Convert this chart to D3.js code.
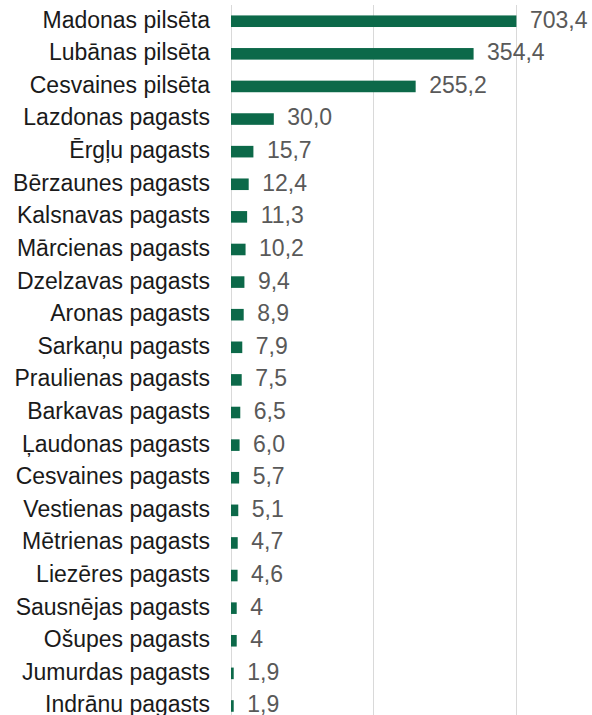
<!DOCTYPE html>
<html>
<head>
<meta charset="utf-8">
<script src="https://cdnjs.cloudflare.com/ajax/libs/d3/7.8.5/d3.min.js"></script>
<style>
  body { margin: 0; background: #fff; }
  svg { display: block; font-family: "Liberation Sans", Arial, sans-serif; }
</style>
</head>
<body>
<svg id="chart"></svg>
<script>
// categories, top to bottom
const categories = ["Madonas pilsēta", "Lubānas pilsēta", "Cesvaines pilsēta", "Lazdonas pagasts",
  "Ērgļu pagasts", "Bērzaunes pagasts", "Kalsnavas pagasts", "Mārcienas pagasts", "Dzelzavas pagasts",
  "Aronas pagasts", "Sarkaņu pagasts", "Praulienas pagasts", "Barkavas pagasts", "Ļaudonas pagasts",
  "Cesvaines pagasts", "Vestienas pagasts", "Mētrienas pagasts", "Liezēres pagasts", "Sausnējas pagasts",
  "Ošupes pagasts", "Jumurdas pagasts", "Indrānu pagasts"];

// values as printed next to the bars
const valueLabels = ["703,4", "354,4", "255,2", "30,0", "15,7", "12,4", "11,3", "10,2", "9,4", "8,9",
  "7,9", "7,5", "6,5", "6,0", "5,7", "5,1", "4,7", "4,6", "4", "4", "1,9", "1,9"];

// bar lengths in axis units, as drawn in the picture (top three bars are drawn shorter than their labels)
const barValues = [200, 170, 129.4, 30, 15.7, 12.4, 11.3, 10.2, 9.4, 8.9,
  7.9, 7.5, 6.5, 6.0, 5.7, 5.1, 4.7, 4.6, 4, 4, 1.9, 1.9];

// gridline values
const gridTicks = [0, 100, 200];

let config = {
  containerWidth: 592,
  containerHeight: 715,
  margin: { top: 5, left: 230.5 },
  barColor: "#0c6949",
  gridColor: "#d9d9d9",
  fontSize: 23
};

let data = categories.map((c, i) => ({ name: c, value: barValues[i], label: valueLabels[i] }));

let svg = d3.select("#chart")
  .attr("width", config.containerWidth)
  .attr("height", config.containerHeight);

let xScale = d3.scaleLinear()
  .domain([0, 200])
  .range([config.margin.left, config.margin.left + 285.4]);

let yScale = d3.scaleBand()
  .domain(categories)
  .range([config.margin.top, config.margin.top + 32.6 * categories.length])
  .paddingInner(0.645)
  .paddingOuter(0.32);

// vertical gridlines
svg.append("g")
  .selectAll("line")
  .data(gridTicks)
  .join("line")
    .attr("x1", d => Math.round(xScale(d)) + 0.5)
    .attr("x2", d => Math.round(xScale(d)) + 0.5)
    .attr("y1", config.margin.top)
    .attr("y2", config.containerHeight)
    .attr("stroke", config.gridColor)
    .attr("stroke-width", 1);

// bars
svg.append("g")
  .selectAll("rect")
  .data(data)
  .join("rect")
    .attr("x", xScale(0) + 0.5)
    .attr("y", d => yScale(d.name))
    .attr("width", d => xScale(d.value) - xScale(0))
    .attr("height", yScale.bandwidth())
    .attr("fill", config.barColor);

// category labels
svg.append("g")
  .selectAll("text")
  .data(data)
  .join("text")
    .attr("x", 210)
    .attr("y", d => yScale(d.name) + yScale.bandwidth() / 2)
    .attr("dy", "0.28em")
    .attr("text-anchor", "end")
    .attr("fill", "#1a1a1a")
    .style("font-size", config.fontSize + "px")
    .text(d => d.name);

// value labels
svg.append("g")
  .selectAll("text")
  .data(data)
  .join("text")
    .attr("x", d => xScale(d.value) + 14)
    .attr("y", d => yScale(d.name) + yScale.bandwidth() / 2)
    .attr("dy", "0.28em")
    .attr("fill", "#595959")
    .style("font-size", config.fontSize + "px")
    .text(d => d.label);
</script>
</body>
</html>
